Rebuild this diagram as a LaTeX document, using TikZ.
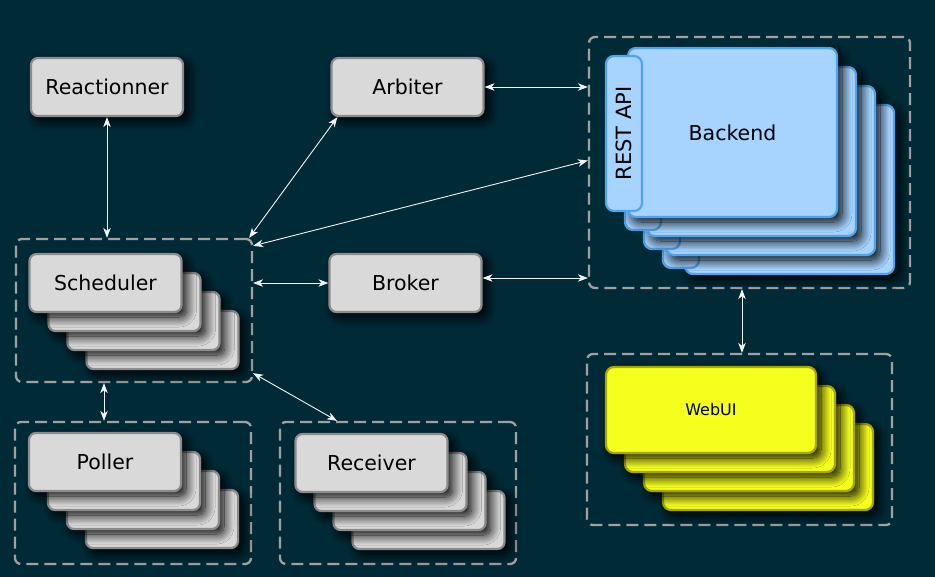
\documentclass[tikz,border=0pt]{standalone}
\usepackage{fontspec}
\setmainfont{DejaVu Sans}
\usetikzlibrary{arrows.meta,shadows.blur}
\definecolor{bgcol}{RGB}{1,42,55}
\definecolor{grpcol}{RGB}{160,160,160}
\definecolor{grayfill}{RGB}{217,217,217}
\definecolor{grayline}{RGB}{140,140,140}
\definecolor{bluefill}{RGB}{166,212,255}
\definecolor{blueline}{RGB}{78,164,238}
\definecolor{yelfill}{RGB}{245,255,30}
\definecolor{yelline}{RGB}{168,168,0}
\definecolor{arrcol}{RGB}{240,244,246}
\tikzset{
  shd/.style={blur shadow={shadow xshift=5pt, shadow yshift=-5pt, shadow blur radius=10pt, shadow opacity=100, shadow blur steps=16}},
  grp/.style={draw=grpcol, line width=2.3pt, rounded corners=6pt, dash pattern=on 12pt off 6pt, inner sep=0pt},
  graybox/.style={draw=grayline, fill=grayfill, line width=2.2pt, rounded corners=7pt, minimum width=152pt, minimum height=58pt, inner sep=0pt, shd, font=\fontsize{20.5}{24}\selectfont},
  bluebox/.style={draw=blueline, fill=bluefill, line width=2.2pt, rounded corners=8pt, minimum width=209pt, minimum height=169pt, inner sep=0pt, shd, font=\fontsize{20.5}{24}\selectfont},
  bluetab/.style={draw=blueline, fill=bluefill, line width=2.2pt, rounded corners=8pt, minimum width=36pt, minimum height=155pt, inner sep=0pt, font=\fontsize{21}{24}\selectfont},
  bluetabr/.style={bluetab, minimum width=155pt, minimum height=36pt, rotate=90},
  yelbox/.style={draw=yelline, fill=yelfill, line width=2.2pt, rounded corners=8pt, minimum width=210pt, minimum height=86pt, inner sep=0pt, shd, font=\fontsize{16}{19}\selectfont},
  conn/.style={draw=arrcol, line width=0.9pt, arrows={Stealth[length=10pt,width=7.5pt,inset=3pt]-Stealth[length=10pt,width=7.5pt,inset=3pt]}}
}
\newcommand\mystack[5]{%
  \foreach \i in {3,2,1} {\node[#4] (#1-\i) at (#2+19*\i, #3+19*\i) {};}
  \node[#4] (#1) at (#2,#3) {#5};
}
\begin{document}
\begin{tikzpicture}[x=1pt,y=-1pt]
\fill[bgcol] (0,0) rectangle (935,577);
\useasboundingbox (0,0) rectangle (935,577);

% groups
\node[grp, minimum width=236pt, minimum height=143pt] (schedgrp) at (134,310.5) {};
\node[grp, minimum width=236pt, minimum height=142pt] (pollergrp) at (133,493) {};
\node[grp, minimum width=236pt, minimum height=142pt] (recvgrp) at (398,493) {};
\node[grp, minimum width=321pt, minimum height=251pt] (backgrp) at (749.5,162.5) {};
\node[grp, minimum width=305pt, minimum height=171pt] (webgrp) at (739.5,439.5) {};

% single boxes
\node[graybox] (react) at (107,87) {Reactionner};
\node[graybox] (arb) at (407.5,87) {Arbiter};
\node[graybox] (broker) at (405.5,283) {Broker};

% stacks
\mystack{sched}{105.5}{283}{graybox}{Scheduler}
\mystack{poller}{105}{462}{graybox}{Poller}
\mystack{recv}{371.5}{463}{graybox}{Receiver}
\mystack{web}{711}{410}{yelbox}{WebUI}

% backend stack
\foreach \i in {3,2,1} {
  \node[bluebox] (back-\i) at (732.5+19*\i,132.5+19*\i) {};
  \node[bluetab] (tab-\i) at (624+19*\i,133.5+19*\i) {};
}
\node[bluebox] (back) at (732.5,132.5) {Backend};
\node[bluetabr] (tab) at (624,133.5) {REST API};

% connectors
\draw[conn] (react.south) -- (react.south |- schedgrp.north);
\draw[conn] ([xshift=7pt]arb.south west) -- ([xshift=-4pt]schedgrp.north east);
\draw[conn] (arb.east) -- (arb.east -| backgrp.west);
\draw[conn] ([yshift=2pt]backgrp.west) -- ([yshift=-8pt]schedgrp.north east);
\draw[conn] (schedgrp.east |- broker.west) -- (broker.west);
\draw[conn] ([yshift=5pt]broker.east) -- ([yshift=5pt]broker.east -| backgrp.west);
\draw[conn] ([xshift=-7.5pt]backgrp.south) -- ([xshift=-7.5pt]backgrp.south |- webgrp.north);
\draw[conn] ([xshift=-30pt]schedgrp.south) -- ([xshift=-30pt]schedgrp.south |- pollergrp.north);
\draw[conn] ([yshift=10pt]schedgrp.south east) -- ([xshift=-61pt]recvgrp.north);
\end{tikzpicture}
\end{document}
